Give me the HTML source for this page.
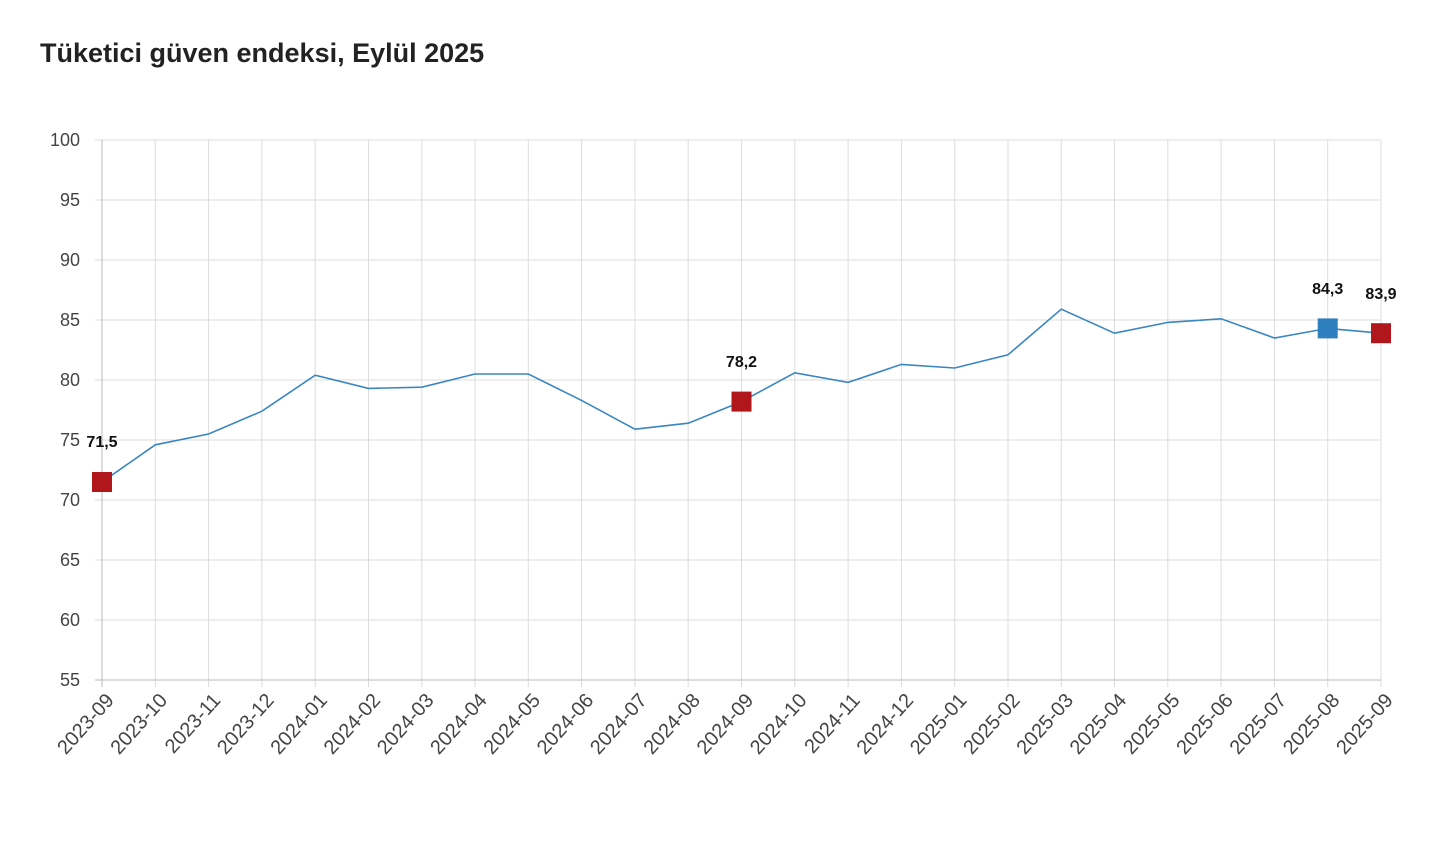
<!DOCTYPE html>
<html><head><meta charset="utf-8"><style>
body{margin:0;background:#fff;}
</style></head><body>
<svg width="1452" height="838" xmlns="http://www.w3.org/2000/svg" font-family="'Liberation Sans', 'DejaVu Sans', sans-serif">
<text x="40" y="62" font-size="27" font-weight="bold" fill="#222">Tüketici güven endeksi, Eylül 2025</text>
<g stroke="#ddd" stroke-width="1">
<line x1="95" x2="1381" y1="140" y2="140"/><line x1="95" x2="1381" y1="200" y2="200"/><line x1="95" x2="1381" y1="260" y2="260"/><line x1="95" x2="1381" y1="320" y2="320"/><line x1="95" x2="1381" y1="380" y2="380"/><line x1="95" x2="1381" y1="440" y2="440"/><line x1="95" x2="1381" y1="500" y2="500"/><line x1="95" x2="1381" y1="560" y2="560"/><line x1="95" x2="1381" y1="620" y2="620"/>
<line x1="155.3" x2="155.3" y1="140" y2="687"/><line x1="208.6" x2="208.6" y1="140" y2="687"/><line x1="261.9" x2="261.9" y1="140" y2="687"/><line x1="315.2" x2="315.2" y1="140" y2="687"/><line x1="368.5" x2="368.5" y1="140" y2="687"/><line x1="421.8" x2="421.8" y1="140" y2="687"/><line x1="475" x2="475" y1="140" y2="687"/><line x1="528.3" x2="528.3" y1="140" y2="687"/><line x1="581.6" x2="581.6" y1="140" y2="687"/><line x1="634.9" x2="634.9" y1="140" y2="687"/><line x1="688.2" x2="688.2" y1="140" y2="687"/><line x1="741.5" x2="741.5" y1="140" y2="687"/><line x1="794.8" x2="794.8" y1="140" y2="687"/><line x1="848.1" x2="848.1" y1="140" y2="687"/><line x1="901.4" x2="901.4" y1="140" y2="687"/><line x1="954.7" x2="954.7" y1="140" y2="687"/><line x1="1008" x2="1008" y1="140" y2="687"/><line x1="1061.3" x2="1061.3" y1="140" y2="687"/><line x1="1114.5" x2="1114.5" y1="140" y2="687"/><line x1="1167.8" x2="1167.8" y1="140" y2="687"/><line x1="1221.1" x2="1221.1" y1="140" y2="687"/><line x1="1274.4" x2="1274.4" y1="140" y2="687"/><line x1="1327.7" x2="1327.7" y1="140" y2="687"/><line x1="1381" x2="1381" y1="140" y2="687"/>
</g>
<line x1="102" x2="102" y1="140" y2="687" stroke="#bbb"/><line x1="95" x2="1381" y1="680" y2="680" stroke="#bbb"/>
<g font-size="18" fill="#444" text-anchor="end">
<text x="80" y="146">100</text><text x="80" y="206">95</text><text x="80" y="266">90</text><text x="80" y="326">85</text><text x="80" y="386">80</text><text x="80" y="446">75</text><text x="80" y="506">70</text><text x="80" y="566">65</text><text x="80" y="626">60</text><text x="80" y="686">55</text>
</g>
<g font-size="20" fill="#444" text-anchor="end">
<text transform="translate(115,701) rotate(-48)">2023-09</text>
<text transform="translate(168.3,701) rotate(-48)">2023-10</text>
<text transform="translate(221.6,701) rotate(-48)">2023-11</text>
<text transform="translate(274.9,701) rotate(-48)">2023-12</text>
<text transform="translate(328.2,701) rotate(-48)">2024-01</text>
<text transform="translate(381.5,701) rotate(-48)">2024-02</text>
<text transform="translate(434.8,701) rotate(-48)">2024-03</text>
<text transform="translate(488,701) rotate(-48)">2024-04</text>
<text transform="translate(541.3,701) rotate(-48)">2024-05</text>
<text transform="translate(594.6,701) rotate(-48)">2024-06</text>
<text transform="translate(647.9,701) rotate(-48)">2024-07</text>
<text transform="translate(701.2,701) rotate(-48)">2024-08</text>
<text transform="translate(754.5,701) rotate(-48)">2024-09</text>
<text transform="translate(807.8,701) rotate(-48)">2024-10</text>
<text transform="translate(861.1,701) rotate(-48)">2024-11</text>
<text transform="translate(914.4,701) rotate(-48)">2024-12</text>
<text transform="translate(967.7,701) rotate(-48)">2025-01</text>
<text transform="translate(1021,701) rotate(-48)">2025-02</text>
<text transform="translate(1074.3,701) rotate(-48)">2025-03</text>
<text transform="translate(1127.5,701) rotate(-48)">2025-04</text>
<text transform="translate(1180.8,701) rotate(-48)">2025-05</text>
<text transform="translate(1234.1,701) rotate(-48)">2025-06</text>
<text transform="translate(1287.4,701) rotate(-48)">2025-07</text>
<text transform="translate(1340.7,701) rotate(-48)">2025-08</text>
<text transform="translate(1394,701) rotate(-48)">2025-09</text>
</g>
<polyline fill="none" stroke="#3a86c0" stroke-width="1.6" points="102,482 155.3,444.8 208.6,434 261.9,411.2 315.2,375.2 368.5,388.4 421.8,387.2 475,374 528.3,374 581.6,400.4 634.9,429.2 688.2,423.2 741.5,401.6 794.8,372.8 848.1,382.4 901.4,364.4 954.7,368 1008,354.8 1061.3,309.2 1114.5,333.2 1167.8,322.4 1221.1,318.8 1274.4,338 1327.7,328.4 1381,333.2"/>
<rect x="92" y="472" width="20" height="20" fill="#b0161c"/>
<rect x="731.5" y="391.6" width="20" height="20" fill="#b0161c"/>
<rect x="1317.7" y="318.4" width="20" height="20" fill="#2e7fbe"/>
<rect x="1371" y="323.2" width="20" height="20" fill="#b0161c"/>
<g font-size="16" font-weight="bold" fill="#111" text-anchor="middle">
<text x="102" y="447">71,5</text>
<text x="741.5" y="367">78,2</text>
<text x="1327.7" y="294">84,3</text>
<text x="1381" y="299">83,9</text>
</g>
</svg>
</body></html>
